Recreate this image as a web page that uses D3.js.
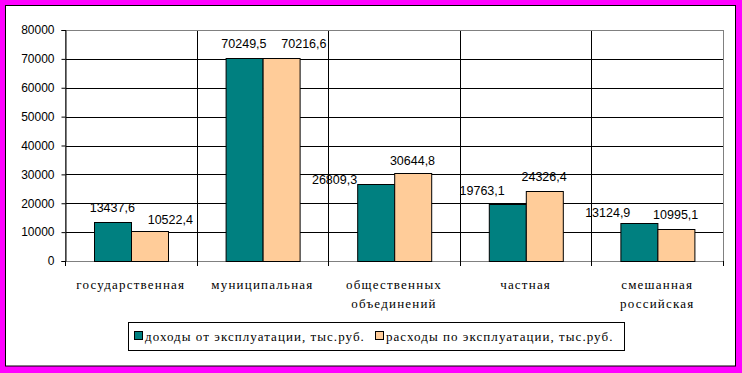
<!DOCTYPE html>
<html>
<head>
<meta charset="utf-8">
<script src="https://cdn.jsdelivr.net/npm/d3@7"></script>
<style>
  html, body { margin: 0; padding: 0; background: #ff00ff; }
  svg { display: block; }
</style>
</head>
<body>
<div id="chart"></div>
<script>
// Data
const categories = [
  ['государственная'],
  ['муниципальная'],
  ['общественных', 'объединений'],
  ['частная'],
  ['смешанная', 'российская']
];
const seriesNames = ['доходы от эксплуатации, тыс.руб.', 'расходы по эксплуатации, тыс.руб.'];
const income = [13437.6, 70249.5, 26809.3, 19763.1, 13124.9];
const expense = [10522.4, 70216.6, 30644.8, 24326.4, 10995.1];
const yTicks = [0, 10000, 20000, 30000, 40000, 50000, 60000, 70000, 80000];

// label nudges (Excel put some labels off-centre)
const labelNudge = [
  [[0, -10], [21, -7]],
  [[0, -10], [23, -10]],
  [[-41, 0], [0, -8]],
  [[-25, -9], [0, -10]],
  [[-31, -6], [0, -10]]
];

const W = 742, H = 373;
const colors = ['#008080', '#ffcc99'];
const plot = { left: 65, top: 30, right: 723, bottom: 261 };

const svg = d3.select('#chart').append('svg')
  .attr('width', W)
  .attr('height', H);

svg.append('rect')
  .attr('width', W).attr('height', H)
  .attr('fill', '#ff00ff');
svg.append('rect')
  .attr('x', 5.5).attr('y', 5.5)
  .attr('width', 730).attr('height', 360.5)
  .attr('fill', '#fff')
  .attr('stroke', '#000');

const keys = categories.map((c, i) => i);
const x = d3.scaleBand()
  .domain(keys)
  .range([plot.left, plot.right]);
const xSub = d3.scaleBand()
  .domain([0, 1])
  .range([0, x.bandwidth()])
  .paddingOuter(0.78);
const y = d3.scaleLinear()
  .domain([0, 80000])
  .range([plot.bottom, plot.top]);

const fmt = v => d3.format('.1f')(v).replace('.', ',');

// grid
const g = svg.append('g');
g.selectAll('.hgrid')
  .data(yTicks.filter(t => t > 0 && t < 80000))
  .enter().append('line')
  .attr('x1', plot.left).attr('x2', plot.right)
  .attr('y1', d => Math.round(y(d)) + 0.5).attr('y2', d => Math.round(y(d)) + 0.5)
  .attr('stroke', '#000');
g.selectAll('.vgrid')
  .data(keys.slice(1))
  .enter().append('line')
  .attr('x1', d => Math.round(x(d)) + 0.5).attr('x2', d => Math.round(x(d)) + 0.5)
  .attr('y1', plot.top).attr('y2', plot.bottom)
  .attr('stroke', '#000');

// plot frame
g.append('rect')
  .attr('x', plot.left + 0.5).attr('y', plot.top + 0.5)
  .attr('width', plot.right - plot.left).attr('height', plot.bottom - plot.top)
  .attr('fill', 'none')
  .attr('stroke', '#808080');

// y axis
const yAxis = svg.append('g')
  .attr('transform', `translate(${plot.left + 0.5},0)`)
  .call(d3.axisLeft(y).tickValues(yTicks).tickSize(4).tickPadding(7).tickFormat(d3.format('d')));
yAxis.select('.domain').attr('stroke', '#000');
yAxis.selectAll('.tick line').attr('stroke', '#000');
yAxis.selectAll('text')
  .attr('font-family', 'Liberation Sans, Arial, sans-serif')
  .attr('font-size', 12)
  .attr('fill', '#000');

// x ticks at category boundaries
svg.selectAll('.xtick')
  .data(keys.concat([keys.length]))
  .enter().append('line')
  .attr('x1', d => Math.round(d < keys.length ? x(d) : plot.right) + 0.5)
  .attr('x2', d => Math.round(d < keys.length ? x(d) : plot.right) + 0.5)
  .attr('y1', plot.bottom).attr('y2', plot.bottom + 5)
  .attr('stroke', '#000');

// bars
const groups = svg.selectAll('.grp')
  .data(keys)
  .enter().append('g')
  .attr('transform', d => `translate(${x(d)},0)`);

groups.selectAll('rect')
  .data(i => [income[i], expense[i]].map((v, s) => ({ v, s, i })))
  .enter().append('rect')
  .attr('x', d => Math.round(xSub(d.s)) + 0.5)
  .attr('y', d => Math.round(y(d.v)) + 0.5)
  .attr('width', Math.round(xSub.bandwidth()))
  .attr('height', d => Math.round(y(0)) - Math.round(y(d.v)))
  .attr('fill', d => colors[d.s])
  .attr('stroke', '#000');

groups.selectAll('.val')
  .data(i => [income[i], expense[i]].map((v, s) => ({ v, s, i })))
  .enter().append('text')
  .attr('x', d => xSub(d.s) + xSub.bandwidth() / 2 + labelNudge[d.i][d.s][0])
  .attr('y', d => y(d.v) + labelNudge[d.i][d.s][1])
  .attr('text-anchor', 'middle')
  .attr('font-family', 'Liberation Sans, Arial, sans-serif')
  .attr('font-size', 12.5)
  .attr('fill', '#000')
  .text(d => fmt(d.v));

// category labels
groups.selectAll('.cat')
  .data(i => categories[i])
  .enter().append('text')
  .attr('x', x.bandwidth() / 2)
  .attr('y', (d, j) => 289 + j * 19)
  .attr('text-anchor', 'middle')
  .attr('font-family', 'Liberation Serif, Times New Roman, serif')
  .attr('font-size', 13)
  .attr('letter-spacing', 1.2)
  .attr('fill', '#000')
  .text(d => d);

// legend
const legend = svg.append('g');
legend.append('rect')
  .attr('x', 128.5).attr('y', 322.5)
  .attr('width', 496).attr('height', 28)
  .attr('fill', '#fff')
  .attr('stroke', '#000');
const legendX = [134, 375];
seriesNames.forEach((name, s) => {
  legend.append('rect')
    .attr('x', legendX[s] + 0.5).attr('y', 331.5)
    .attr('width', 8).attr('height', 8)
    .attr('fill', colors[s])
    .attr('stroke', '#000');
  legend.append('text')
    .attr('x', legendX[s] + 11)
    .attr('y', 341)
    .attr('font-family', 'Liberation Serif, Times New Roman, serif')
    .attr('font-size', 13)
    .attr('letter-spacing', 1.05)
    .attr('fill', '#000')
    .text(name);
});
</script>
</body>
</html>
